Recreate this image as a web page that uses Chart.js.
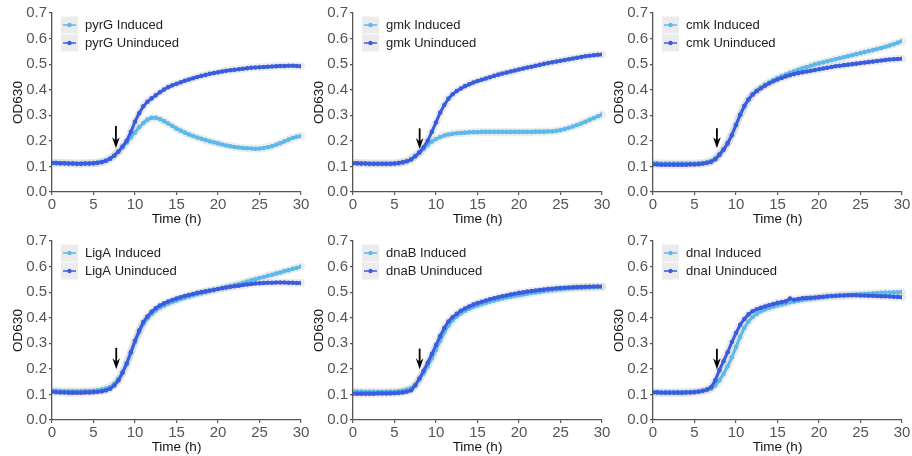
<!DOCTYPE html>
<html><head><meta charset="utf-8">
<script src="https://cdn.jsdelivr.net/npm/chart.js@4.4.1/dist/chart.umd.min.js"></script>
<style>
html,body{margin:0;padding:0;background:#fff;width:912px;height:456px;overflow:hidden}
.p{position:absolute;width:311px;height:228px}
</style></head><body>
<div class="p" style="left:0;top:0"><canvas id="c0" width="311" height="228"></canvas></div>
<div class="p" style="left:301px;top:0"><canvas id="c1" width="311" height="228"></canvas></div>
<div class="p" style="left:601px;top:0"><canvas id="c2" width="311" height="228"></canvas></div>
<div class="p" style="left:0;top:228px"><canvas id="c3" width="311" height="228"></canvas></div>
<div class="p" style="left:301px;top:228px"><canvas id="c4" width="311" height="228"></canvas></div>
<div class="p" style="left:601px;top:228px"><canvas id="c5" width="311" height="228"></canvas></div>
<script>
// ---- data ----
const TIMES = [0,0.5,1,1.5,2,2.5,3,3.5,4,4.5,5,5.5,6,6.5,7,7.5,8,8.5,9,9.5,10,10.5,11,11.5,12,12.5,13,13.5,14,14.5,15,15.5,16,16.5,17,17.5,18,18.5,19,19.5,20,20.5,21,21.5,22,22.5,23,23.5,24,24.5,25,25.5,26,26.5,27,27.5,28,28.5,29,29.5,30];
const X_TICKS = [0,5,10,15,20,25,30];
const Y_TICKS = [0.0,0.1,0.2,0.3,0.4,0.5,0.6,0.7];
const GENES = ["pyrG","gmk","cmk","LigA","dnaB","dnaI"];
const ARROW_X = [7.7,8.03,7.7,7.74,8.03,7.7];
const ARROW_TOP = [0.258,0.249,0.249,0.282,0.279,0.279];
const ARROW_TIP = [0.171,0.168,0.171,0.198,0.198,0.198];

const pyrG_I = [0.115,0.114,0.113,0.113,0.112,0.112,0.111,0.111,0.112,0.112,
 0.113,0.115,0.118,0.123,0.131,0.143,0.158,0.175,0.194,0.213,
 0.233,0.253,0.270,0.283,0.290,0.290,0.285,0.277,0.268,0.258,
 0.248,0.240,0.232,0.225,0.219,0.213,0.208,0.203,0.198,0.194,
 0.190,0.186,0.182,0.179,0.176,0.174,0.172,0.171,0.170,0.169,
 0.170,0.172,0.175,0.179,0.185,0.191,0.198,0.205,0.211,0.216,
 0.219];
const pyrG_U = [0.113,0.113,0.112,0.112,0.111,0.111,0.110,0.110,0.111,0.111,
 0.112,0.114,0.117,0.122,0.130,0.142,0.158,0.178,0.200,0.235,
 0.275,0.308,0.335,0.353,0.366,0.378,0.390,0.401,0.410,0.417,
 0.423,0.429,0.435,0.440,0.445,0.450,0.454,0.458,0.462,0.465,
 0.468,0.471,0.474,0.476,0.478,0.480,0.482,0.484,0.486,0.487,
 0.488,0.489,0.490,0.491,0.492,0.493,0.493,0.494,0.494,0.493,
 0.492];
const gmk_I = [0.114,0.113,0.112,0.112,0.111,0.111,0.111,0.111,0.111,0.111,
 0.112,0.114,0.117,0.121,0.128,0.140,0.153,0.168,0.184,0.197,
 0.207,0.215,0.221,0.225,0.228,0.230,0.231,0.232,0.233,0.234,
 0.234,0.235,0.235,0.235,0.235,0.235,0.235,0.235,0.235,0.235,
 0.235,0.235,0.235,0.235,0.236,0.236,0.236,0.237,0.237,0.239,
 0.242,0.246,0.251,0.256,0.262,0.268,0.275,0.282,0.289,0.296,
 0.303];
const gmk_U = [0.112,0.112,0.111,0.111,0.110,0.110,0.110,0.110,0.110,0.110,
 0.111,0.113,0.116,0.120,0.127,0.140,0.155,0.175,0.200,0.235,
 0.272,0.310,0.340,0.365,0.382,0.395,0.405,0.414,0.421,0.428,
 0.434,0.439,0.444,0.449,0.454,0.459,0.463,0.467,0.471,0.475,
 0.479,0.483,0.487,0.490,0.494,0.497,0.501,0.504,0.507,0.510,
 0.513,0.516,0.519,0.522,0.525,0.528,0.531,0.533,0.535,0.537,
 0.538];
const cmk_I = [0.113,0.112,0.111,0.111,0.111,0.111,0.111,0.111,0.111,0.111,
 0.111,0.112,0.113,0.116,0.121,0.132,0.148,0.168,0.193,0.224,
 0.262,0.300,0.334,0.361,0.381,0.396,0.408,0.419,0.428,0.437,
 0.445,0.452,0.459,0.466,0.472,0.478,0.484,0.489,0.494,0.499,
 0.503,0.507,0.511,0.515,0.519,0.523,0.527,0.531,0.535,0.539,
 0.543,0.547,0.551,0.555,0.559,0.563,0.568,0.573,0.578,0.584,
 0.590];
const cmk_U = [0.108,0.108,0.107,0.107,0.107,0.107,0.107,0.107,0.107,0.108,
 0.108,0.109,0.111,0.114,0.118,0.128,0.145,0.165,0.190,0.222,
 0.262,0.302,0.336,0.362,0.381,0.395,0.406,0.416,0.425,0.433,
 0.440,0.446,0.452,0.457,0.461,0.465,0.468,0.471,0.474,0.477,
 0.480,0.483,0.486,0.489,0.492,0.494,0.496,0.498,0.500,0.502,
 0.504,0.506,0.508,0.510,0.512,0.514,0.516,0.518,0.519,0.520,
 0.521];
const LigA_I = [0.115,0.114,0.113,0.112,0.112,0.112,0.112,0.112,0.113,0.113,
 0.114,0.116,0.119,0.123,0.129,0.141,0.160,0.187,0.222,0.262,
 0.305,0.343,0.375,0.398,0.415,0.428,0.439,0.447,0.455,0.461,
 0.467,0.473,0.478,0.483,0.488,0.492,0.496,0.500,0.504,0.508,
 0.512,0.516,0.520,0.524,0.528,0.532,0.537,0.541,0.546,0.550,
 0.555,0.559,0.564,0.568,0.573,0.577,0.582,0.586,0.591,0.595,
 0.600];
const LigA_U = [0.110,0.109,0.108,0.108,0.107,0.107,0.107,0.107,0.108,0.108,
 0.109,0.110,0.112,0.116,0.122,0.135,0.155,0.185,0.220,0.265,
 0.310,0.350,0.383,0.405,0.423,0.437,0.448,0.456,0.463,0.469,
 0.475,0.480,0.485,0.489,0.493,0.497,0.500,0.503,0.506,0.509,
 0.512,0.515,0.518,0.521,0.523,0.525,0.528,0.530,0.532,0.534,
 0.535,0.536,0.537,0.537,0.538,0.538,0.538,0.537,0.537,0.536,
 0.536];
const dnaB_I = [0.112,0.111,0.111,0.110,0.110,0.110,0.110,0.110,0.110,0.111,
 0.111,0.113,0.115,0.119,0.125,0.138,0.158,0.182,0.210,0.241,
 0.275,0.310,0.343,0.370,0.390,0.405,0.417,0.427,0.435,0.442,
 0.448,0.453,0.458,0.463,0.467,0.471,0.475,0.479,0.482,0.485,
 0.488,0.491,0.494,0.497,0.499,0.501,0.504,0.506,0.508,0.510,
 0.511,0.513,0.514,0.515,0.516,0.517,0.518,0.519,0.519,0.520,
 0.520];
const dnaB_U = [0.103,0.103,0.103,0.103,0.103,0.103,0.104,0.104,0.104,0.104,
 0.105,0.106,0.108,0.111,0.116,0.135,0.162,0.192,0.224,0.258,
 0.293,0.328,0.360,0.385,0.402,0.415,0.427,0.436,0.444,0.451,
 0.457,0.462,0.467,0.472,0.476,0.480,0.484,0.487,0.491,0.494,
 0.497,0.499,0.502,0.504,0.506,0.508,0.510,0.512,0.513,0.515,
 0.516,0.517,0.518,0.519,0.520,0.520,0.521,0.521,0.522,0.522,
 0.522];
const dnaI_I = [0.109,0.109,0.108,0.108,0.108,0.108,0.108,0.108,0.108,0.109,
 0.110,0.111,0.114,0.118,0.122,0.135,0.155,0.180,0.210,0.245,
 0.285,0.325,0.360,0.385,0.403,0.415,0.425,0.432,0.438,0.443,
 0.448,0.452,0.456,0.460,0.463,0.466,0.469,0.472,0.474,0.476,
 0.478,0.480,0.482,0.484,0.485,0.487,0.488,0.489,0.490,0.491,
 0.492,0.493,0.494,0.495,0.496,0.497,0.498,0.498,0.499,0.499,
 0.500];
const dnaI_U = [0.108,0.108,0.107,0.107,0.107,0.107,0.107,0.107,0.108,0.108,
 0.109,0.111,0.114,0.119,0.128,0.155,0.195,0.230,0.265,0.305,
 0.340,0.372,0.395,0.413,0.425,0.433,0.439,0.444,0.449,0.453,
 0.458,0.461,0.464,0.475,0.470,0.473,0.476,0.477,0.478,0.479,
 0.481,0.482,0.484,0.485,0.486,0.487,0.487,0.488,0.488,0.488,
 0.487,0.487,0.486,0.486,0.485,0.484,0.484,0.483,0.482,0.481,
 0.480];

const INDUCED = [pyrG_I, gmk_I, cmk_I, LigA_I, dnaB_I, dnaI_I];
const UNINDUCED = [pyrG_U, gmk_U, cmk_U, LigA_U, dnaB_U, dnaI_U];

// ---- style ----
const C_IND = '#5cb9e9';
const C_UNI = '#3a5ddf';
const FONT = "'Liberation Sans', Arial, sans-serif";

const bandPlugin = {
  id: 'band',
  beforeDatasetsDraw(chart) {
    const ctx = chart.ctx, ca = chart.chartArea;
    ctx.save();
    ctx.beginPath(); ctx.rect(ca.left, ca.top - 5, ca.right - ca.left + 5, ca.bottom - ca.top + 5); ctx.clip();
    chart.data.datasets.forEach((ds, i) => {
      const pts = chart.getDatasetMeta(i).data;
      ctx.beginPath();
      pts.forEach((p, k) => { if (k === 0) ctx.moveTo(p.x, p.y); else ctx.lineTo(p.x, p.y); });
      ctx.lineWidth = 8; ctx.lineJoin = 'round'; ctx.lineCap = 'round';
      ctx.strokeStyle = 'rgba(200,200,200,0.35)';
      ctx.stroke();
    });
    ctx.restore();
  }
};

const overlayPlugin = {
  id: 'overlay',
  afterDatasetsDraw(chart, args, opts) {
    const ctx = chart.ctx, ca = chart.chartArea;
    const xs = chart.scales.x, ys = chart.scales.y;
    // arrow
    const ax = xs.getPixelForValue(opts.arrowX);
    const at = ys.getPixelForValue(opts.arrowTop);
    const ab = ys.getPixelForValue(opts.arrowTip);
    ctx.save();
    ctx.strokeStyle = '#000'; ctx.fillStyle = '#000'; ctx.lineWidth = 1.8;
    ctx.beginPath(); ctx.moveTo(ax, at); ctx.lineTo(ax, ab - 6); ctx.stroke();
    ctx.beginPath();
    ctx.moveTo(ax, ab); ctx.lineTo(ax - 3.8, ab - 11); ctx.lineTo(ax, ab - 7.5); ctx.lineTo(ax + 3.8, ab - 11);
    ctx.closePath(); ctx.fill();
    // legend
    const rows = [ca.top + 12, ca.top + 30];
    const dss = [chart.data.datasets[0], chart.data.datasets[1]];
    rows.forEach((ry, r) => {
      const ds = dss[r];
      ctx.fillStyle = '#ebebeb';
      ctx.fillRect(ca.left + 9, ry - 8.5, 17, 17);
      ctx.strokeStyle = ds.borderColor; ctx.lineWidth = 1.5;
      ctx.beginPath(); ctx.moveTo(ca.left + 11, ry); ctx.lineTo(ca.left + 24, ry); ctx.stroke();
      ctx.fillStyle = ds.borderColor;
      ctx.beginPath(); ctx.arc(ca.left + 17.5, ry, 2.2, 0, Math.PI * 2); ctx.fill();
      ctx.fillStyle = '#222'; ctx.font = '13px ' + FONT;
      ctx.textBaseline = 'middle'; ctx.textAlign = 'left';
      ctx.fillText(ds.label, ca.left + 33, ry + 0.5);
    });
    ctx.restore();
  }
};

function makeChart(idx) {
  const g = GENES[idx];
  new Chart(document.getElementById('c' + idx), {
    type: 'line',
    data: {
      labels: TIMES,
      datasets: [
        { label: g + ' Induced', data: INDUCED[idx], borderColor: C_IND, backgroundColor: C_IND,
          pointBackgroundColor: C_IND, pointRadius: 2.3, pointBorderWidth: 0, borderWidth: 3, order: 1 },
        { label: g + ' Uninduced', data: UNINDUCED[idx], borderColor: C_UNI, backgroundColor: C_UNI,
          pointBackgroundColor: C_UNI, pointRadius: 2.3, pointBorderWidth: 0, borderWidth: 3, order: 0 }
      ]
    },
    options: {
      responsive: false, animation: false,
      layout: { padding: { top: 13, right: 10, left: 0, bottom: 0 } },
      plugins: {
        legend: { display: false }, tooltip: { enabled: false },
        overlay: { arrowX: ARROW_X[idx], arrowTop: ARROW_TOP[idx], arrowTip: ARROW_TIP[idx] }
      },
      scales: {
        x: {
          type: 'linear', min: 0, max: 30,
          afterBuildTicks: s => { s.ticks = X_TICKS.map(v => ({ value: v })); },
          afterFit: s => { s.height = 36; },
          ticks: { color: '#555', font: { size: 15, family: FONT }, padding: 1, maxRotation: 0,
                   callback: v => String(v) },
          grid: { display: true, drawOnChartArea: false, drawTicks: true, tickLength: 3, color: '#555', lineWidth: 1.2 },
          border: { display: true, color: '#555', width: 1.3 },
          title: { display: true, text: 'Time (h)', color: '#111', font: { size: 13.5, family: FONT },
                   padding: { top: 0, bottom: 1 } }
        },
        y: {
          type: 'linear', min: 0, max: 0.7,
          afterBuildTicks: s => { s.ticks = Y_TICKS.map(v => ({ value: v })); },
          afterFit: s => { s.width = 52; },
          ticks: { color: '#555', font: { size: 15, family: FONT }, padding: 2,
                   callback: v => Number(v).toFixed(1) },
          grid: { display: true, drawOnChartArea: false, drawTicks: true, tickLength: 3, color: '#555', lineWidth: 1.2 },
          border: { display: true, color: '#555', width: 1.3 },
          title: { display: true, text: 'OD630', color: '#111', font: { size: 13.5, family: FONT },
                   padding: { top: 10, bottom: 0 } }
        }
      }
    },
    plugins: [bandPlugin, overlayPlugin]
  });
}
for (let i = 0; i < 6; i++) makeChart(i);
</script>
</body></html>
